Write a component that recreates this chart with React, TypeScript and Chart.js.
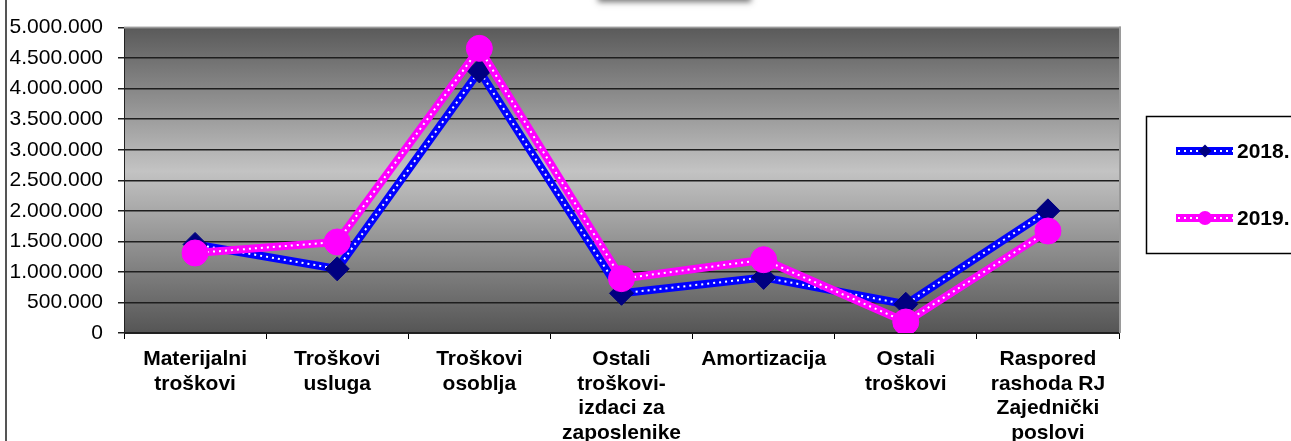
import React, { useEffect, useRef } from "react";
import { Chart, registerables } from "chart.js";

Chart.register(...registerables);

const categories: string[][] = [
  ["Materijalni", "troškovi"],
  ["Troškovi", "usluga"],
  ["Troškovi", "osoblja"],
  ["Ostali", "troškovi-", "izdaci za", "zaposlenike"],
  ["Amortizacija"],
  ["Ostali", "troškovi"],
  ["Raspored", "rashoda RJ", "Zajednički", "poslovi"],
];

const values2018: number[] = [1450000, 1050000, 4290000, 650000, 910000, 470000, 2000000];
const values2019: number[] = [1310000, 1490000, 4660000, 890000, 1200000, 180000, 1670000];

const seriesNames: string[] = ["2018.", "2019."];
const yMin = 0;
const yMax = 5000000;
const yStep = 500000;

const BLUE = "#0000FF";
const NAVY = "#000080";
const MAGENTA = "#FF00FF";

function fmt(v: number): string {
  return Math.round(v).toString().replace(/\B(?=(\d{3})+(?!\d))/g, ".");
}

const decorPlugin = {
  id: "decor",
  beforeDraw(chart: any) {
    const { ctx, chartArea: a } = chart;
    ctx.save();
    ctx.fillStyle = "#ffffff";
    ctx.fillRect(0, 0, chart.width, chart.height);
    const g = ctx.createLinearGradient(0, a.top, 0, a.bottom);
    g.addColorStop(0, "#5a5a5a");
    g.addColorStop(0.47, "#c3c3c3");
    g.addColorStop(1, "#555555");
    ctx.fillStyle = g;
    ctx.fillRect(a.left, a.top, a.right - a.left, a.bottom - a.top);
    // title box shadow (box itself lies above the visible area)
    ctx.shadowColor = "rgba(0,0,0,0.55)";
    ctx.shadowBlur = 6;
    ctx.shadowOffsetY = 2;
    ctx.fillStyle = "#ffffff";
    ctx.fillRect(598, -40, 153, 40);
    ctx.restore();
  },
  beforeDatasetsDraw(chart: any) {
    const { ctx, chartArea: a } = chart;
    ctx.save();
    ctx.fillStyle = "#9a9a9a";
    ctx.fillRect(a.left, a.top - 1, a.right - a.left + 2, 2);
    ctx.fillRect(a.right, a.top - 1, 2, a.bottom - a.top + 1);
    ctx.restore();
  },
  afterDraw(chart: any) {
    const { ctx } = chart;
    ctx.save();
    // outer chart border (left edge)
    ctx.fillStyle = "#555555";
    ctx.fillRect(5, 0, 2, chart.height);
    // legend box
    ctx.strokeStyle = "#000000";
    ctx.lineWidth = 1.5;
    ctx.strokeRect(1146.5, 116.5, 200, 137);
    const items = [
      { name: seriesNames[0], color: BLUE, marker: NAVY, shape: "diamond", y: 151 },
      { name: seriesNames[1], color: MAGENTA, marker: MAGENTA, shape: "circle", y: 218 },
    ];
    for (const it of items) {
      ctx.beginPath();
      ctx.strokeStyle = it.color;
      ctx.lineWidth = 8;
      ctx.setLineDash([]);
      ctx.moveTo(1176, it.y);
      ctx.lineTo(1233, it.y);
      ctx.stroke();
      ctx.beginPath();
      ctx.strokeStyle = "#ffffff";
      ctx.lineWidth = 2;
      ctx.setLineDash([2, 4]);
      ctx.moveTo(1178, it.y);
      ctx.lineTo(1233, it.y);
      ctx.stroke();
      ctx.setLineDash([]);
      ctx.fillStyle = it.marker;
      ctx.beginPath();
      if (it.shape === "diamond") {
        const r = 6.5;
        ctx.moveTo(1205, it.y - r);
        ctx.lineTo(1205 + r, it.y);
        ctx.lineTo(1205, it.y + r);
        ctx.lineTo(1205 - r, it.y);
        ctx.closePath();
      } else {
        ctx.arc(1205, it.y, 7, 0, Math.PI * 2);
      }
      ctx.fill();
      ctx.fillStyle = "#000000";
      ctx.font = "bold 21px 'Liberation Sans', Arial, sans-serif";
      ctx.textBaseline = "middle";
      ctx.textAlign = "left";
      ctx.fillText(it.name, 1237, it.y + 1);
    }
    ctx.restore();
  },
};

export default function App() {
  const ref = useRef<HTMLCanvasElement | null>(null);

  useEffect(() => {
    document.body.style.margin = "0";
    const canvas = ref.current;
    if (!canvas) return;

    const lineDs = (data: number[], color: string, order: number) => ({
      label: "line",
      data,
      borderColor: color,
      backgroundColor: color,
      borderWidth: 8,
      pointRadius: 0,
      tension: 0,
      order,
    });
    const dotDs = (data: number[], order: number) => ({
      label: "dots",
      data,
      borderColor: "#ffffff",
      borderWidth: 2,
      borderDash: [2, 4],
      borderCapStyle: "butt",
      pointRadius: 0,
      tension: 0,
      order,
    });
    const markerDs = (data: number[], color: string, style: string, radius: number, order: number) => ({
      label: "markers",
      data,
      showLine: false,
      pointStyle: style,
      pointRadius: radius,
      pointBackgroundColor: color,
      pointBorderColor: color,
      pointBorderWidth: 1,
      order,
    });

    const chart = new Chart(canvas, {
      type: "line",
      data: {
        labels: categories,
        datasets: [
          lineDs(values2018, BLUE, 6),
          dotDs(values2018, 5),
          markerDs(values2018, NAVY, "rectRot", 12, 4),
          lineDs(values2019, MAGENTA, 3),
          dotDs(values2019, 2),
          markerDs(values2019, MAGENTA, "circle", 13, 1),
        ] as any,
      },
      options: {
        responsive: false,
        animation: false,
        layout: { padding: { top: 24, right: 172, left: 0, bottom: 0 } },
        plugins: {
          legend: { display: false },
          tooltip: { enabled: false },
          title: { display: false },
        },
        scales: {
          x: {
            offset: true,
            grid: {
              display: true,
              drawOnChartArea: false,
              drawTicks: true,
              tickLength: 6,
              color: "#000000",
              offset: true,
            },
            border: { display: true, color: "#222222", width: 1 },
            ticks: {
              color: "#000000",
              padding: 8,
              maxRotation: 0,
              minRotation: 0,
              autoSkip: false,
              font: {
                family: "'Liberation Sans Narrow', 'Arial Narrow', 'Liberation Sans', Arial, sans-serif",
                size: 21,
                weight: "bold",
                lineHeight: 1.167,
              },
            },
            afterFit(axis: any) {
              axis.height = 108;
            },
          },
          y: {
            min: yMin,
            max: yMax,
            grid: {
              color: "#1e1e1e",
              lineWidth: 1.5,
              tickLength: 6,
              drawTicks: true,
            },
            border: { display: true, color: "#222222", width: 1 },
            ticks: {
              stepSize: yStep,
              color: "#000000",
              padding: 15,
              font: { family: "'Liberation Sans', Arial, sans-serif", size: 21 },
              callback: (v: any) => fmt(Number(v)),
            },
            afterFit(axis: any) {
              axis.width = 124;
            },
          },
        },
      } as any,
      plugins: [decorPlugin],
    });

    return () => {
      chart.destroy();
    };
  }, []);

  return (
    <div style={{ width: 1291, height: 441, overflow: "hidden" }}>
      <canvas ref={ref} width={1291} height={441} style={{ display: "block" }} />
    </div>
  );
}
